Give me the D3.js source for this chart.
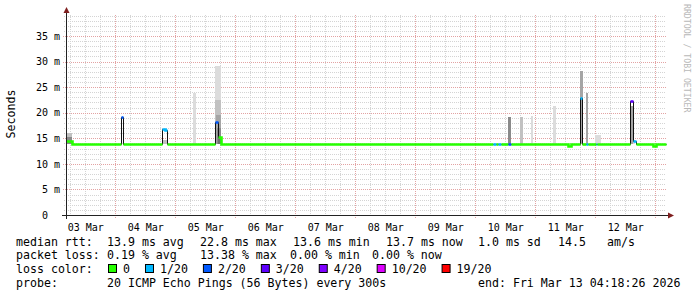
<!DOCTYPE html>
<html>
<head>
<meta charset="utf-8">
<script src="https://cdn.jsdelivr.net/npm/d3@7"></script>
<style>
body{margin:0;background:#fff}
svg{display:block;font-family:"DejaVu Sans Mono",monospace}
</style>
</head>
<body>
<svg id="chart" width="697" height="297"></svg>
<script>
// median rtt steps: hours after 2026-03-03 00:00 UTC, value in ms, lost pings of 20
var runHour = [4.31, 6.6, 26.3, 27.1, 42.9, 43.9, 44.7, 63.9, 65.1, 66.3,
	175.2, 176.3, 177.2, 178.3, 181.1, 182.3, 205.1, 206.3, 209.9, 210.9,
	212.3, 213.1, 216.3, 216.8, 229.9, 231.0, 232.3, 239.1, 240.3];
var runMs = [14.4, 13.8, 19.2, 13.8, 16.9, 16.6, 13.8, 18.1, 15.3, 13.8,
	13.8, 13.8, 13.8, 13.8, 13.8, 13.8, 13.5, 13.8, 22.8, 13.8,
	13.8, 13.8, 13.8, 13.8, 22.3, 14.5, 13.8, 13.5, 13.8];
var runLoss = [0, 0, 2, 0, 1, 1, 0, 2, 0, 0,
	1, 0, 1, 0, 2, 0, 0, 0, 1, 0,
	1, 0, 1, 0, 3, 1, 0, 0, 0];

// smoke bands (ping spread): from/to hours, low/high ms, rank (0 = outermost pings)
var smokeFrom = [4.31, 4.31, 43.0, 55.1, 64.1, 64.1, 64.5, 64.7, 65.3, 181.1, 185.9, 190.3, 199.1, 210.0, 212.3, 216.1, 230.1, 230.7];
var smokeTo   = [6.7, 6.7, 44.7, 56.3, 66.3, 66.3, 66.3, 66.3, 66.3, 182.3, 187.1, 191.1, 200.3, 211.1, 213.1, 218.3, 231.1, 232.0];
var smokeLo   = [13.8, 13.8, 13.8, 13.8, 13.8, 13.8, 13.8, 13.8, 13.8, 13.8, 13.8, 13.8, 13.8, 13.8, 13.8, 13.8, 13.8, 13.8];
var smokeHi   = [16.1, 15.2, 14.6, 23.9, 29.1, 22.5, 19.5, 17.0, 15.3, 19.2, 19.2, 19.4, 21.3, 28.2, 23.9, 15.6, 21.3, 14.6];
var smokeRank = [1, 3, 1, 0, 0, 1, 2, 3, 4, 3, 1, 0, 0, 2, 2, 0, 2, 0];

var lossSteps = [0, 1, 2, 3, 4, 10, 19];
var lossLabels = ["0", "1/20", "2/20", "3/20", "4/20", "10/20", "19/20"];
var lossColors = ["#26ff00", "#00b8ff", "#0059ff", "#5e00ff", "#7e00ff", "#dd00ff", "#ff0000"];

var yMax = 39.1;
var yTicks = [0, 5, 10, 15, 20, 25, 30, 35];

var rttLine = ["median rtt:", "13.9 ms avg", "22.8 ms max", "13.6 ms min", "13.7 ms now", "1.0 ms sd", "14.5", "am/s"];
var lossLine = ["packet loss:", "0.19 % avg", "13.38 % max", "0.00 % min", "0.00 % now"];
var probeLine = ["probe:", "20 ICMP Echo Pings (56 Bytes) every 300s", "end: Fri Mar 13 04:18:26 2026"];

var base = Date.UTC(2026, 2, 3);
function toDate(h){ return new Date(base + h * 3600000); }
var t0 = new Date(Date.UTC(2026, 2, 3, 4, 18, 26));
var t1 = new Date(Date.UTC(2026, 2, 13, 4, 18, 26));

var L = 66, R = 666, T = 15, B = 215;
var svg = d3.select('#chart');

var x = d3.scaleUtc().domain([t0, t1]).range([L, R]);
var y = d3.scaleLinear().domain([0, yMax]).range([B, T]);
var lossColor = d3.scaleThreshold().domain(lossSteps.slice(1)).range(lossColors);
var smokeGray = d3.scaleLinear().domain([0, 4]).range(['#dcdcdc', '#6e6e6e']);

function px(v){ return Math.round(v) + 0.5; }

// grid
var grid = svg.append('g');
var days = d3.utcDay.range(t0, t1);
var quarters = d3.utcHour.every(6).range(t0, t1).filter(function(d){ return d.getUTCHours() != 0; });

grid.selectAll('.vmin').data(quarters).enter().append('line')
	.attr('x1', function(d){ return px(x(d)); })
	.attr('x2', function(d){ return px(x(d)); })
	.attr('y1', T).attr('y2', B + 2)
	.attr('stroke', '#d4d4d4').attr('stroke-dasharray', '1,1');

var minorY = d3.range(1, yMax).filter(function(d){ return d % 5 != 0; });
grid.selectAll('.hmin').data(minorY).enter().append('line')
	.attr('x1', L - 2).attr('x2', R)
	.attr('y1', function(d){ return px(y(d)); })
	.attr('y2', function(d){ return px(y(d)); })
	.attr('stroke', '#d4d4d4').attr('stroke-dasharray', '1,1');

grid.selectAll('.vmaj').data(days).enter().append('line')
	.attr('x1', function(d){ return px(x(d)); })
	.attr('x2', function(d){ return px(x(d)); })
	.attr('y1', T).attr('y2', B + 3)
	.attr('stroke', '#e3a3a3').attr('stroke-dasharray', '1,1');

grid.selectAll('.hmaj').data(yTicks.slice(1)).enter().append('line')
	.attr('x1', L - 3).attr('x2', R)
	.attr('y1', function(d){ return px(y(d)); })
	.attr('y2', function(d){ return px(y(d)); })
	.attr('stroke', '#e3a3a3').attr('stroke-dasharray', '1,1');

// smoke
var smoke = smokeFrom.map(function(f, i){
	return {from: f, to: smokeTo[i], lo: smokeLo[i], hi: smokeHi[i], rank: smokeRank[i]};
});
smoke.sort(function(a, b){ return a.rank - b.rank; });
svg.append('g').selectAll('rect').data(smoke).enter().append('rect')
	.attr('x', function(d){ return Math.round(x(toDate(d.from))); })
	.attr('width', function(d){ return Math.max(1, Math.round(x(toDate(d.to))) - Math.round(x(toDate(d.from)))); })
	.attr('y', function(d){ return Math.round(y(d.hi)); })
	.attr('height', function(d){ return Math.round(y(d.lo)) - Math.round(y(d.hi)); })
	.attr('fill', function(d){ return smokeGray(d.rank); });

// median
var runs = runHour.map(function(h, i){ return {t: toDate(h), v: runMs[i], loss: runLoss[i]}; });
var stepLine = d3.line()
	.x(function(d){ return px(x(d.t)); })
	.y(function(d){ return px(y(d.v)); })
	.curve(d3.curveStepAfter);

var allPts = runs.concat([{t: t1, v: runs[runs.length - 1].v}]);
svg.append('path').datum(allPts)
	.attr('d', stepLine)
	.attr('fill', 'none').attr('stroke', '#111').attr('stroke-width', 1);

// coloured parts, one path per run of equal loss bucket
var groups = [];
var cur = null;
runs.forEach(function(r, i){
	var c = lossColor(r.loss);
	if(cur == null || cur.color != c){
		if(cur != null) cur.pts.push({t: r.t, v: cur.pts[cur.pts.length - 1].v});
		cur = {color: c, pts: []};
		groups.push(cur);
	}
	cur.pts.push(r);
});
cur.pts.push({t: t1, v: cur.pts[cur.pts.length - 1].v});

svg.append('g').selectAll('path').data(groups).enter().append('path')
	.attr('d', function(d){ return stepLine(d.pts); })
	.attr('fill', 'none')
	.attr('stroke', function(d){ return d.color; })
	.attr('stroke-width', 2.6);

// axes
var axisCol = '#222';
svg.append('line').attr('x1', L - 4).attr('x2', R + 4).attr('y1', B + 0.5).attr('y2', B + 0.5)
	.attr('stroke', axisCol);
svg.append('line').attr('x1', L + 0.5).attr('x2', L + 0.5).attr('y1', B + 4).attr('y2', T - 3)
	.attr('stroke', axisCol);
svg.append('path').attr('d', 'M' + (R + 2) + ',' + (B - 2.5) + 'L' + (R + 8) + ',' + (B + 0.5) + 'L' + (R + 2) + ',' + (B + 3.5) + 'Z')
	.attr('fill', '#7f1f1f');
svg.append('path').attr('d', 'M' + (L - 2.5) + ',' + (T - 2) + 'L' + (L + 0.5) + ',' + (T - 8) + 'L' + (L + 3.5) + ',' + (T - 2) + 'Z')
	.attr('fill', '#7f1f1f');

// day labels centred on noon
var noons = days.map(function(d){ return d3.utcHour.offset(d, -12); });
var xAxis = svg.append('g').attr('transform', 'translate(0,' + B + ')')
	.call(d3.axisBottom(x).tickValues(noons).tickSize(0).tickPadding(9).tickFormat(d3.utcFormat('%d %b')));
xAxis.select('.domain').remove();
xAxis.selectAll('text').attr('font-family', 'DejaVu Sans Mono').attr('font-size', '10px').attr('fill', '#000');

var yAxis = svg.append('g').attr('transform', 'translate(60,0)')
	.call(d3.axisLeft(y).tickValues(yTicks).tickSize(0).tickPadding(0)
		.tickFormat(function(d){ return d == 0 ? '0  ' : d + ' m'; }));
yAxis.select('.domain').remove();
yAxis.selectAll('text').attr('font-family', 'DejaVu Sans Mono').attr('font-size', '10px')
	.attr('fill', '#000').style('white-space', 'pre');

svg.append('text').attr('transform', 'translate(14.5,114) rotate(-90)')
	.attr('text-anchor', 'middle').attr('font-size', '11.6px').text('Seconds');

svg.append('text').attr('transform', 'translate(684,4) rotate(90)')
	.attr('font-size', '8.2px').attr('fill', '#b8b8b8').style('white-space', 'pre')
	.text('RRDTOOL / TOBI OETIKER');

// legend
var fs = '11.6px';
function row(items, xs, yb){
	items.forEach(function(s, i){
		svg.append('text').attr('x', xs[i]).attr('y', yb).attr('font-size', fs).attr('fill', '#000').text(s);
	});
}
row(rttLine, [16, 107, 200, 293, 386, 478, 558, 607], 245.5);
row(lossLine, [16, 107, 200, 290, 372], 259);
row(probeLine, [16, 107, 478], 286.5);

svg.append('text').attr('x', 16).attr('y', 273).attr('font-size', fs).text('loss color:');
var lx = 108;
lossLabels.forEach(function(lab, i){
	svg.append('rect').attr('x', lx + 0.5).attr('y', 264.5).attr('width', 8).attr('height', 8)
		.attr('fill', lossColors[i]).attr('stroke', '#000');
	var t = svg.append('text').attr('x', lx + 15).attr('y', 273).attr('font-size', fs).text(lab);
	lx = lx + 15 + t.node().getComputedTextLength() + 15;
});
</script>
</body>
</html>
